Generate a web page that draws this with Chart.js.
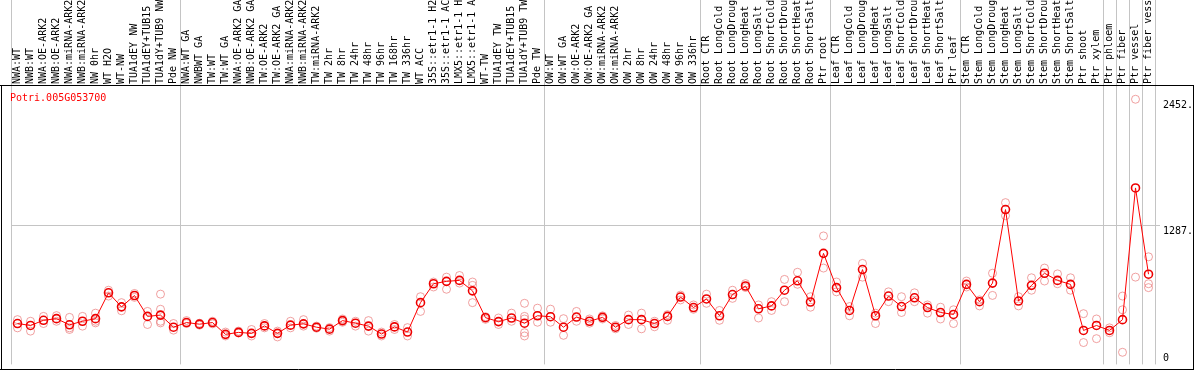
<!DOCTYPE html>
<html>
<head>
<meta charset="utf-8">
<script src="https://cdn.jsdelivr.net/npm/chart.js@4.4.0/dist/chart.umd.min.js"></script>
<style>
  html, body { margin: 0; padding: 0; background: #fff; }
  canvas { display: block; }
</style>
</head>
<body>
<canvas id="chart" width="1194" height="370"></canvas>
<script>
// gene shown in this panel
const geneId = "Potri.005G053700";

// sample names, left to right
const categories = [
  "NWA:WT", "NWB:WT", "NWA:OE-ARK2", "NWB:OE-ARK2", "NWA:miRNA-ARK2", "NWB:miRNA-ARK2",
  "NW 0hr", "WT H2O", "WT-NW", "TUA1dEY NW", "TUA1dEY+TUB15 NW", "TUA1dY+TUB9 NW", "Pde NW",
  "NWA:WT GA", "NWBWT GA", "TW:WT", "TW:WT GA", "NWA:OE-ARK2 GA", "NWB:OE-ARK2 GA",
  "TW:OE-ARK2", "TW:OE-ARK2 GA", "NWA:miRNA-ARK2", "NWB:miRNA-ARK2", "TW:miRNA-ARK2",
  "TW 2hr", "TW 8hr", "TW 24hr", "TW 48hr", "TW 96hr", "TW 168hr", "TW 336hr", "WT ACC",
  "35S::etr1-1 H2O", "35S::etr1-1 ACC", "LMX5::etr1-1 H2O", "LMX5::etr1-1 ACC",
  "WT-TW", "TUA1dEY TW", "TUA1dEY+TUB15 TW", "TUA1dY+TUB9 TW", "Pde TW",
  "OW:WT", "OW:WT GA", "OW:OE-ARK2", "OW:OE-ARK2 GA", "OW:miRNA-ARK2", "OW:miRNA-ARK2",
  "OW 2hr", "OW 8hr", "OW 24hr", "OW 48hr", "OW 96hr", "OW 336hr",
  "Root CTR", "Root LongCold", "Root LongDrought", "Root LongHeat", "Root LongSalt",
  "Root ShortCold", "Root ShortDrought", "Root ShortHeat", "Root ShortSalt", "Ptr root",
  "Leaf CTR", "Leaf LongCold", "Leaf LongDrought", "Leaf LongHeat", "Leaf LongSalt",
  "Leaf ShortCold", "Leaf ShortDrought", "Leaf ShortHeat", "Leaf ShortSalt", "Ptr leaf",
  "Stem CTR", "Stem LongCold", "Stem LongDrought", "Stem LongHeat", "Stem LongSalt",
  "Stem ShortCold", "Stem ShortDrought", "Stem ShortHeat", "Stem ShortSalt", "Ptr shoot",
  "Ptr xylem", "Ptr phloem", "Ptr fiber", "Ptr vessel", "Ptr fiber vessel"
];

// mean expression per sample
const meanValues = [
  378, 360, 408, 423, 366, 399, 423, 662, 532, 637, 444, 456, 344,
  387, 372, 387, 278, 296, 287, 356, 287, 363, 375, 344, 326, 405, 381, 354, 281, 347,
  299, 571, 746, 768, 777, 680, 432, 396, 429, 381, 450,
  441, 344, 438, 399, 435, 344, 414, 414, 378, 444, 623, 526,
  605, 450, 646, 725, 514, 541, 686, 773, 577, 1027,
  710, 499, 877, 450, 632, 535, 616, 526, 480, 462,
  740, 580, 752, 1432, 586, 731, 843, 777, 740, 314, 360,
  314, 414, 1632, 834
];

// individual replicate values per sample
const replicates = [
  [414, 338], [399, 308], [444, 378], [451, 399], [435, 338, 323], [444, 354],
  [474, 399, 384], [686, 632], [571, 496], [656, 620], [490, 369], [650, 510, 399, 384], [378, 317],
  [405, 378], [381, 363], [399, 375], [263, 299], [308, 290], [323, 263], [378, 338],
  [308, 254], [399, 338], [414, 354], [354, 335], [340, 308], [420, 390], [399, 354],
  [405, 308], [299, 263], [369, 323], [340, 263], [626, 490], [762, 716], [807, 695],
  [822, 752], [762, 731, 571], [441, 417], [429, 369], [474, 399], [565, 444, 420, 293, 263],
  [520, 390],
  [511, 390], [423, 269], [490, 399], [420, 381], [449, 420], [360, 329], [456, 369],
  [474, 329], [399, 348], [460, 408], [641, 596], [550, 510],
  [650, 565], [499, 408], [686, 611], [747, 711], [550, 429], [580, 499], [786, 580],
  [852, 741], [626, 529], [1188, 891],
  [762, 671], [535, 450], [934, 807], [474, 378], [671, 580], [626, 480], [662, 580],
  [550, 474], [529, 420], [505, 378],
  [771, 716], [596, 541], [843, 638], [1496, 1375], [626, 541], [801, 686], [891, 771],
  [837, 746], [801, 686], [469, 202], [420, 238],
  [338, 293], [632, 505, 112], [2452, 807], [995, 746, 710]
];

// first sample of each tissue block (plus the end)
const groupStarts = [0, 13, 41, 53, 63, 73, 84, 85, 86, 87, 88];

// right axis ticks
const yTicks = [0, 1287, 2452];
const yMax = 2574.6;

const monoFont = { family: "DejaVu Sans Mono", size: 10 };

// replicate columns -> one point dataset each
const maxReps = Math.max(...replicates.map(r => r.length));
const repDatasets = [];
for (let k = 0; k < maxReps; k++) {
  repDatasets.push({
    label: "rep " + (k + 1),
    data: replicates.map(r => (r[k] === undefined ? null : r[k])),
    showLine: false,
    pointRadius: 4,
    pointBorderWidth: 1,
    pointBorderColor: "rgba(232, 110, 110, 0.65)",
    pointBackgroundColor: "rgba(0,0,0,0)",
    order: 2
  });
}

const framePlugin = {
  id: "frame",
  beforeDatasetsDraw(chart) {
    const ctx = chart.ctx;
    const xs = chart.scales.x;
    const half = (xs.getPixelForValue(1) - xs.getPixelForValue(0)) / 2;
    ctx.save();
    ctx.strokeStyle = "#c4c4c4";
    ctx.lineWidth = 1;
    groupStarts.forEach(b => {
      const px = b < categories.length
        ? xs.getPixelForValue(b) - half
        : xs.getPixelForValue(categories.length - 1) + half;
      const x = Math.round(px) + 0.5;
      ctx.beginPath();
      ctx.moveTo(x, 0);
      ctx.lineTo(x, chart.chartArea.bottom);
      ctx.stroke();
    });
    ctx.restore();
  },
  afterDraw(chart) {
    const ctx = chart.ctx;
    const w = chart.width, h = chart.height;
    const top = chart.chartArea.top;
    ctx.save();
    ctx.strokeStyle = "#000";
    ctx.lineWidth = 1;
    ctx.beginPath();
    ctx.moveTo(0, top - 0.5); ctx.lineTo(w, top - 0.5);
    ctx.moveTo(1.5, top - 0.5); ctx.lineTo(1.5, h);
    ctx.moveTo(w - 0.5, top - 0.5); ctx.lineTo(w - 0.5, h);
    ctx.moveTo(0, h - 0.5); ctx.lineTo(w, h - 0.5);
    ctx.stroke();
    // gene id in the corner
    ctx.fillStyle = "#ff0000";
    ctx.font = "10px 'DejaVu Sans Mono'";
    ctx.textBaseline = "alphabetic";
    ctx.fillText(chart.data.datasets[0].label, 10, top + 15);
    ctx.restore();
  }
};

new Chart(document.getElementById("chart").getContext("2d"), {
  type: "line",
  data: {
    labels: categories,
    datasets: [
      {
        label: geneId,
        data: meanValues,
        borderColor: "#ff0000",
        borderWidth: 1,
        tension: 0,
        pointRadius: 4,
        pointBorderWidth: 1.6,
        pointBorderColor: "#ee0000",
        pointBackgroundColor: "rgba(0,0,0,0)",
        order: 1
      },
      ...repDatasets
    ]
  },
  options: {
    responsive: false,
    animation: false,
    layout: { padding: { left: 11, right: 0, top: 0, bottom: 1 } },
    plugins: {
      legend: { display: false },
      tooltip: { enabled: false }
    },
    scales: {
      x: {
        type: "category",
        position: "top",
        offset: true,
        grid: { display: false, drawTicks: false },
        border: { display: false },
        ticks: {
          autoSkip: false,
          minRotation: 90,
          maxRotation: 90,
          padding: 2,
          labelOffset: 12,
          color: "#000",
          font: monoFont
        },
        afterFit: s => {
          s.height = 86;
          s.paddingLeft = 0;
          s.paddingRight = 0;
        }
      },
      y: {
        position: "right",
        min: 0,
        max: yMax,
        afterBuildTicks: s => { s.ticks = yTicks.map(v => ({ value: v })); },
        grid: {
          color: c => (c.tick && c.tick.value === 1287 ? "#c4c4c4" : "rgba(0,0,0,0)"),
          tickColor: c => (c.tick && c.tick.value === 1287 ? "#c4c4c4" : "rgba(0,0,0,0)"),
          tickLength: 5
        },
        border: { display: false },
        ticks: {
          padding: 3,
          color: "#000",
          font: { family: "DejaVu Sans Mono", size: 10, lineHeight: 1.2 },
          callback: v => (v === 0 ? ["0", ""] : ["", v + "."])
        },
        afterFit: s => {
          s.width = 39;
          s.paddingTop = 0;
          s.paddingBottom = 0;
        }
      }
    }
  },
  plugins: [framePlugin]
});
</script>
</body>
</html>
